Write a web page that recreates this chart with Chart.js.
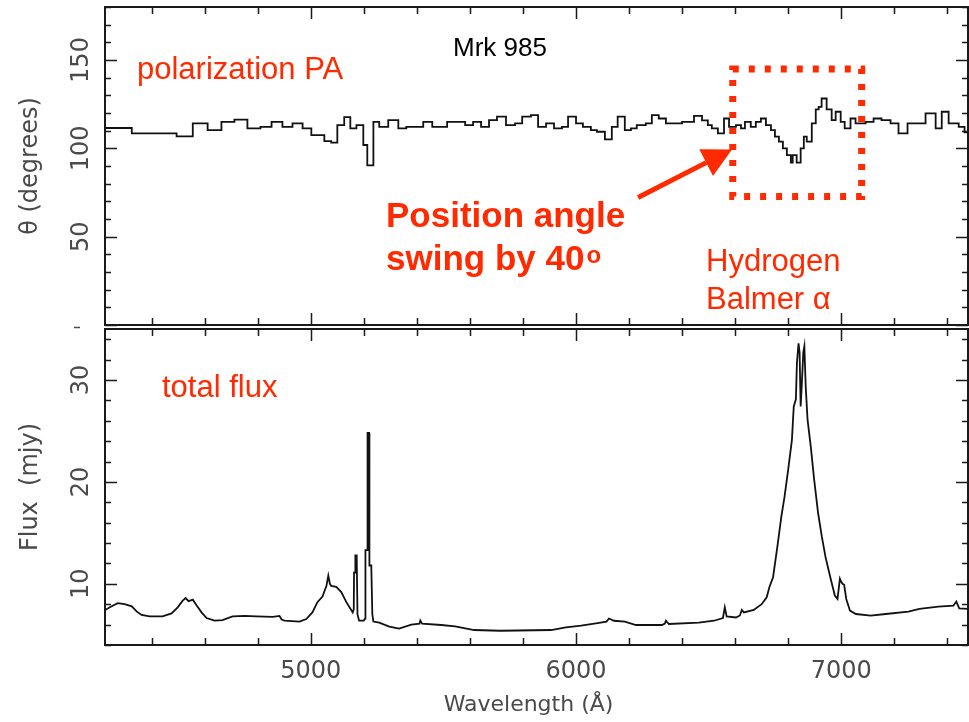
<!DOCTYPE html>
<html>
<head>
<meta charset="utf-8">
<title>Mrk 985</title>
<script src="https://cdn.jsdelivr.net/npm/chart.js@4.4.0/dist/chart.umd.min.js"></script>
<style>
  html, body { margin: 0; padding: 0; background: #fff; }
  #wrap { position: relative; width: 969px; height: 722px; }
  #wrap canvas { position: absolute; left: 0; top: 0; }
</style>
</head>
<body>
<div id="wrap">
  <canvas id="paChart" width="969" height="722"></canvas>
  <canvas id="fluxChart" width="969" height="722"></canvas>
</div>
<script>
// polarization position angle, binned: left edge of each bin (A) and angle (deg)
const paWave = [4223, 4325, 4494, 4555, 4611, 4663, 4712, 4761, 4810, 4852, 4893, 4931, 4969,
  5002, 5051, 5077, 5100, 5126, 5149, 5172, 5198, 5213, 5236, 5258, 5292, 5330, 5360, 5424,
  5458, 5514, 5582, 5612, 5642, 5672, 5702, 5736, 5770, 5797, 5830, 5857, 5887, 5917, 5947,
  5970, 6000, 6026, 6056, 6079, 6109, 6135, 6157, 6184, 6207, 6229, 6263, 6286, 6312, 6339,
  6400, 6445, 6475, 6497, 6512, 6535, 6558, 6577, 6603, 6622, 6637, 6659, 6678, 6697, 6716,
  6735, 6750, 6765, 6780, 6795, 6810, 6817, 6832, 6847, 6859, 6870, 6889, 6904, 6915, 6926,
  6945, 6964, 6979, 6998, 7013, 7035, 7054, 7092, 7122, 7152, 7186, 7216, 7250, 7318, 7356,
  7379, 7405, 7443, 7465];
const paDeg = [111.5, 108.5, 106.8, 114.1, 110.3, 115.0, 116.2, 111.3, 112.2, 115.0, 112.2, 114.1, 111.3,
  107.5, 104.1, 103.2, 113.1, 117.7, 111.3, 113.1, 101.9, 90.4, 115.0, 112.2, 116.0, 111.3, 112.2, 115.0,
  112.2, 115.0, 113.1, 115.0, 112.2, 116.0, 117.9, 113.1, 114.1, 117.9, 118.8, 112.2, 114.1, 111.3, 112.2,
  117.9, 114.1, 112.2, 110.3, 109.4, 105.1, 112.2, 117.9, 110.3, 111.3, 113.1, 114.1, 118.8, 116.9, 114.1,
  115.0, 118.4, 115.8, 113.1, 111.3, 108.5, 116.9, 112.2, 113.1, 111.3, 115.0, 112.2, 115.0, 116.9, 113.1,
  110.3, 106.6, 103.8, 100.0, 96.2, 91.9, 96.2, 91.9, 100.0, 106.6, 103.8, 114.1, 122.1, 123.5, 128.2,
  122.1, 116.0, 120.7, 115.0, 111.3, 116.9, 114.1, 115.0, 116.9, 116.0, 114.1, 108.5, 114.1, 119.8, 111.3,
  120.7, 114.1, 112.2, 109.0];
const paEnd = 7478;

// total flux spectrum
const fluxWave = [4223, 4242, 4272, 4298, 4325, 4343, 4362, 4392, 4441, 4475, 4498, 4517, 4528, 4539,
  4555, 4569, 4588, 4607, 4637, 4667, 4705, 4750, 4795, 4856, 4882, 4890, 4901, 4957, 4983, 5006,
  5025, 5044, 5059, 5066, 5072, 5077, 5096, 5115, 5134, 5153, 5158, 5162, 5163, 5167, 5168, 5173,
  5176, 5182, 5200, 5205, 5206, 5213, 5214, 5220, 5221, 5228, 5232, 5236, 5258, 5296, 5333, 5379,
  5410, 5413, 5420, 5492, 5544, 5616, 5714, 5906, 5962, 6019, 6075, 6115, 6124, 6143, 6184, 6226,
  6324, 6335, 6339, 6350, 6463, 6520, 6554, 6561, 6568, 6603, 6618, 6625, 6633, 6670, 6700, 6719,
  6729, 6743, 6759, 6774, 6786, 6800, 6814, 6821, 6829, 6833, 6839, 6843, 6847, 6851, 6857, 6861,
  6866, 6873, 6885, 6898, 6913, 6927, 6941, 6962, 6976, 6986, 6995, 7000, 7005, 7011, 7019, 7033,
  7055, 7111, 7168, 7253, 7295, 7366, 7423, 7434, 7445, 7478];
const fluxVal = [7.4, 7.7, 8.1, 8.0, 7.8, 7.3, 6.95, 6.8, 6.8, 7.1, 7.7, 8.35, 8.6, 8.3,
  8.45, 7.9, 7.2, 6.65, 6.4, 6.45, 6.8, 6.85, 6.8, 6.75, 6.85, 6.5, 6.4, 6.3, 6.55, 7.2,
  8.2, 8.75, 9.8, 10.8, 10.0, 9.8, 9.7, 9.2, 8.2, 7.4, 7.2, 7.5, 11.1, 11.1, 12.8, 12.8,
  7.0, 6.4, 6.4, 6.6, 13.3, 13.3, 24.8, 24.8, 11.8, 11.8, 7.0, 6.3, 6.2, 5.8, 5.6, 6.0,
  6.1, 6.4, 6.1, 5.96, 5.83, 5.47, 5.4, 5.47, 5.73, 5.9, 6.12, 6.3, 6.6, 6.38, 6.3, 5.96,
  5.96, 6.1, 6.38, 6.06, 6.2, 6.38, 6.65, 7.7, 6.8, 6.7, 6.9, 7.44, 7.2, 7.44, 8.0, 8.68,
  9.67, 10.65, 13.6, 16.56, 18.5, 21.2, 24.1, 27.4, 28.1, 31.7, 33.6, 32.7, 27.4, 29.4, 32.7, 33.3,
  29.4, 26.1, 23.5, 20.2, 16.9, 14.6, 12.6, 10.3, 8.85, 8.52, 10.5, 10.2, 10.0, 9.9, 8.52, 7.37,
  7.04, 6.88, 7.04, 7.27, 7.54, 7.76, 7.86, 8.26, 7.6, 7.54];

// axes
const waveMin = 4224, waveMax = 7478;
const paMin = 0, paMax = 180;
const fluxMin = 4, fluxMax = 35;
const xTickLabels = [5000, 6000, 7000];
const paTickLabels = [50, 100, 150];
const fluxTickLabels = [10, 20, 30];
const xMinorStep = 200, xMajorStep = 1000;
const paMinorStep = 10, paMajorStep = 50;
const fluxMinorStep = 2, fluxMajorStep = 10;

// annotation anchors in data units
const boxWave = [6591, 7077], boxDeg = [72.7, 144.9];
const arrowWave = [6234, 6588], arrowDeg = [72.2, 99.4];

const RED = '#ff2a00';
const AXIS_INK = '#4a4a4a';
const TICK_FONT = '24px "DejaVu Sans"';

function tickLoop(min, max, step, fn) {
  for (let v = Math.ceil(min / step) * step; v <= max + 1e-9; v += step) fn(v);
}

// frame with inward ticks on all four sides
function framePlugin(yMinor, yMajor) {
  return {
    id: 'frameTicks',
    afterDatasetsDraw(chart) {
      const { ctx, chartArea: a, scales: { x, y } } = chart;
      ctx.save();
      ctx.strokeStyle = '#1a1a1a';
      ctx.lineWidth = 1.5;
      ctx.beginPath();
      tickLoop(x.min, x.max, xMinorStep, v => {
        const px = Math.round(x.getPixelForValue(v)) + 0.5;
        const len = v % xMajorStep === 0 ? 12 : 7;
        ctx.moveTo(px, a.top); ctx.lineTo(px, a.top + len);
        ctx.moveTo(px, a.bottom); ctx.lineTo(px, a.bottom - len);
      });
      tickLoop(y.min, y.max, yMinor, v => {
        const py = Math.round(y.getPixelForValue(v)) + 0.5;
        const len = v % yMajor === 0 ? 12 : 6;
        ctx.moveTo(a.left, py); ctx.lineTo(a.left + len, py);
        ctx.moveTo(a.right, py); ctx.lineTo(a.right - len, py);
      });
      ctx.stroke();
      ctx.lineWidth = 2;
      ctx.strokeRect(a.left, a.top, a.right - a.left, a.bottom - a.top);
      ctx.restore();
    }
  };
}

function drawYLabels(chart, labels, title) {
  const { ctx, scales: { y } } = chart;
  ctx.save();
  ctx.fillStyle = AXIS_INK;
  ctx.font = TICK_FONT;
  ctx.textAlign = 'center';
  ctx.textBaseline = 'alphabetic';
  labels.forEach(v => {
    ctx.save();
    ctx.translate(88, y.getPixelForValue(v));
    ctx.rotate(-Math.PI / 2);
    ctx.fillText(String(v), 0, 0);
    ctx.restore();
  });
  ctx.translate(37, (y.top + y.bottom) / 2);
  ctx.rotate(-Math.PI / 2);
  ctx.fillText(title, 0, 0);
  ctx.restore();
}

function line(ctx, x0, y0, x1, y1) {
  ctx.beginPath(); ctx.moveTo(x0, y0); ctx.lineTo(x1, y1); ctx.stroke();
}

const paDecor = {
  id: 'paDecor',
  afterDraw(chart) {
    const { ctx, scales: { x, y } } = chart;
    drawYLabels(chart, paTickLabels, 'θ (degrees)');
    ctx.save();
    // little dash left of the panel joint
    ctx.strokeStyle = AXIS_INK; ctx.lineWidth = 1.5;
    line(ctx, 74, 327.5, 80, 327.5);

    ctx.fillStyle = '#000';
    ctx.font = '26px "Liberation Sans", Arial, sans-serif';
    ctx.textBaseline = 'alphabetic';
    ctx.fillText('Mrk 985', 453, 56);

    ctx.fillStyle = RED;
    ctx.font = '31px "Liberation Sans", Arial, sans-serif';
    ctx.fillText('polarization PA', 137, 79);
    ctx.fillText('Hydrogen', 706, 271);
    ctx.fillText('Balmer α', 706, 309);

    ctx.font = 'bold 35px "Liberation Sans", Arial, sans-serif';
    ctx.fillText('Position angle', 386, 227);
    ctx.fillText('swing by 40', 386, 270);
    const w = ctx.measureText('swing by 40').width;
    ctx.font = 'bold 24px "Liberation Sans", Arial, sans-serif';
    ctx.fillText('o', 386 + w + 2, 263);

    // dotted box around H-alpha
    const bx0 = x.getPixelForValue(boxWave[0]), bx1 = x.getPixelForValue(boxWave[1]);
    const by0 = y.getPixelForValue(boxDeg[1]), by1 = y.getPixelForValue(boxDeg[0]);
    ctx.strokeStyle = RED;
    ctx.lineWidth = 7;
    ctx.setLineDash([6, 10]);
    ctx.strokeRect(bx0, by0, bx1 - bx0, by1 - by0);
    ctx.setLineDash([]);

    // arrow
    const ax0 = x.getPixelForValue(arrowWave[0]), ay0 = y.getPixelForValue(arrowDeg[0]);
    const ax1 = x.getPixelForValue(arrowWave[1]), ay1 = y.getPixelForValue(arrowDeg[1]);
    const ang = Math.atan2(ay1 - ay0, ax1 - ax0);
    const headLen = 29, headHalf = 15;
    const bxh = ax1 - headLen * Math.cos(ang), byh = ay1 - headLen * Math.sin(ang);
    ctx.lineWidth = 5;
    line(ctx, ax0, ay0, bxh, byh);
    ctx.beginPath();
    ctx.moveTo(ax1, ay1);
    ctx.lineTo(bxh + headHalf * Math.sin(ang), byh - headHalf * Math.cos(ang));
    ctx.lineTo(bxh - headHalf * Math.sin(ang), byh + headHalf * Math.cos(ang));
    ctx.closePath();
    ctx.fill();
    ctx.restore();
  }
};

const fluxDecor = {
  id: 'fluxDecor',
  afterDraw(chart) {
    const { ctx, scales: { x } } = chart;
    drawYLabels(chart, fluxTickLabels, 'Flux  (mjy)');
    ctx.save();
    ctx.fillStyle = AXIS_INK;
    ctx.font = TICK_FONT;
    ctx.textAlign = 'center';
    ctx.textBaseline = 'alphabetic';
    xTickLabels.forEach(v => ctx.fillText(String(v), x.getPixelForValue(v), 678));
    ctx.font = '22px "DejaVu Sans"';
    ctx.fillText('Wavelength (Å)', (x.left + x.right) / 2 - 8, 711);

    ctx.textAlign = 'left';
    ctx.fillStyle = RED;
    ctx.font = '31px "Liberation Sans", Arial, sans-serif';
    ctx.fillText('total flux', 162, 397);
    ctx.restore();
  }
};

function baseOptions(yMin, yMax, padding) {
  return {
    responsive: false,
    animation: false,
    events: [],
    layout: { padding },
    plugins: { legend: { display: false }, tooltip: { enabled: false } },
    scales: {
      x: { type: 'linear', min: waveMin, max: waveMax, display: false },
      y: { type: 'linear', min: yMin, max: yMax, display: false }
    }
  };
}

const paPoints = paWave.map((w, i) => ({ x: w, y: paDeg[i] }));
paPoints.push({ x: paEnd, y: paDeg[paDeg.length - 1] });

new Chart(document.getElementById('paChart'), {
  type: 'line',
  data: {
    datasets: [{
      data: paPoints,
      stepped: 'before',
      borderColor: '#111',
      borderWidth: 1.8,
      pointRadius: 0,
      fill: false
    }]
  },
  options: baseOptions(paMin, paMax, { left: 105, top: 7, right: 1, bottom: 397 }),
  plugins: [framePlugin(paMinorStep, paMajorStep), paDecor]
});

new Chart(document.getElementById('fluxChart'), {
  type: 'line',
  data: {
    datasets: [{
      data: fluxWave.map((w, i) => ({ x: w, y: fluxVal[i] })),
      borderColor: '#111',
      borderWidth: 1.8,
      pointRadius: 0,
      tension: 0,
      fill: false
    }]
  },
  options: baseOptions(fluxMin, fluxMax, { left: 105, top: 329, right: 1, bottom: 77 }),
  plugins: [framePlugin(fluxMinorStep, fluxMajorStep), fluxDecor]
});
</script>
</body>
</html>
